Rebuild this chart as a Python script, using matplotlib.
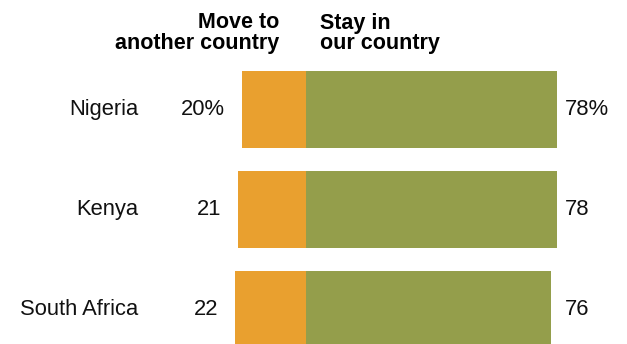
import numpy as np
import matplotlib.pyplot as plt

countries = ['Nigeria', 'Kenya', 'South Africa']
move = [20, 21, 22]
stay = [78, 78, 76]
move_labels = ['20%', '21', '22']
stay_labels = ['78%', '78', '76']

orange = '#E9A02F'
green = '#949E4B'

plt.rcParams['font.family'] = ['Liberation Sans', 'DejaVu Sans']

fig = plt.figure(figsize=(6.27, 3.44), dpi=100)
ax = fig.add_axes([0, 0, 1, 1])

# 1 percentage point ~ 3.22 px, zero line at x = 306 px
px = 3.22
ax.set_xlim(-306 / px, (627 - 306) / px)
ax.set_ylim((344 - 109.5) / 100, -109.5 / 100)
ax.axis('off')

y = np.arange(len(countries))
ax.barh(y, [-m for m in move], height=0.77, color=orange, edgecolor='none')
ax.barh(y, stay, height=0.77, color=green, edgecolor='none')

for i in range(len(countries)):
    ax.text((138 - 306) / px, y[i], countries[i],
            ha='right', va='center', fontsize=15.8, color='#111111')
    ax.text(-move[i] - 17 / px, y[i], move_labels[i],
            ha='right', va='center', fontsize=15.8, color='#111111')
    ax.text((565 - 306) / px, y[i], stay_labels[i],
            ha='left', va='center', fontsize=15.8, color='#111111')

ax.text((279 - 306) / px, -1.095 + 0.125, 'Move to\nanother country',
        ha='right', va='top', fontsize=15.5, fontweight='bold',
        linespacing=1.0, color='#000000')
ax.text((320 - 306) / px, -1.095 + 0.125, 'Stay in\nour country',
        ha='left', va='top', fontsize=15.5, fontweight='bold',
        linespacing=1.0, color='#000000')

fig.savefig('out.png', dpi=100)
